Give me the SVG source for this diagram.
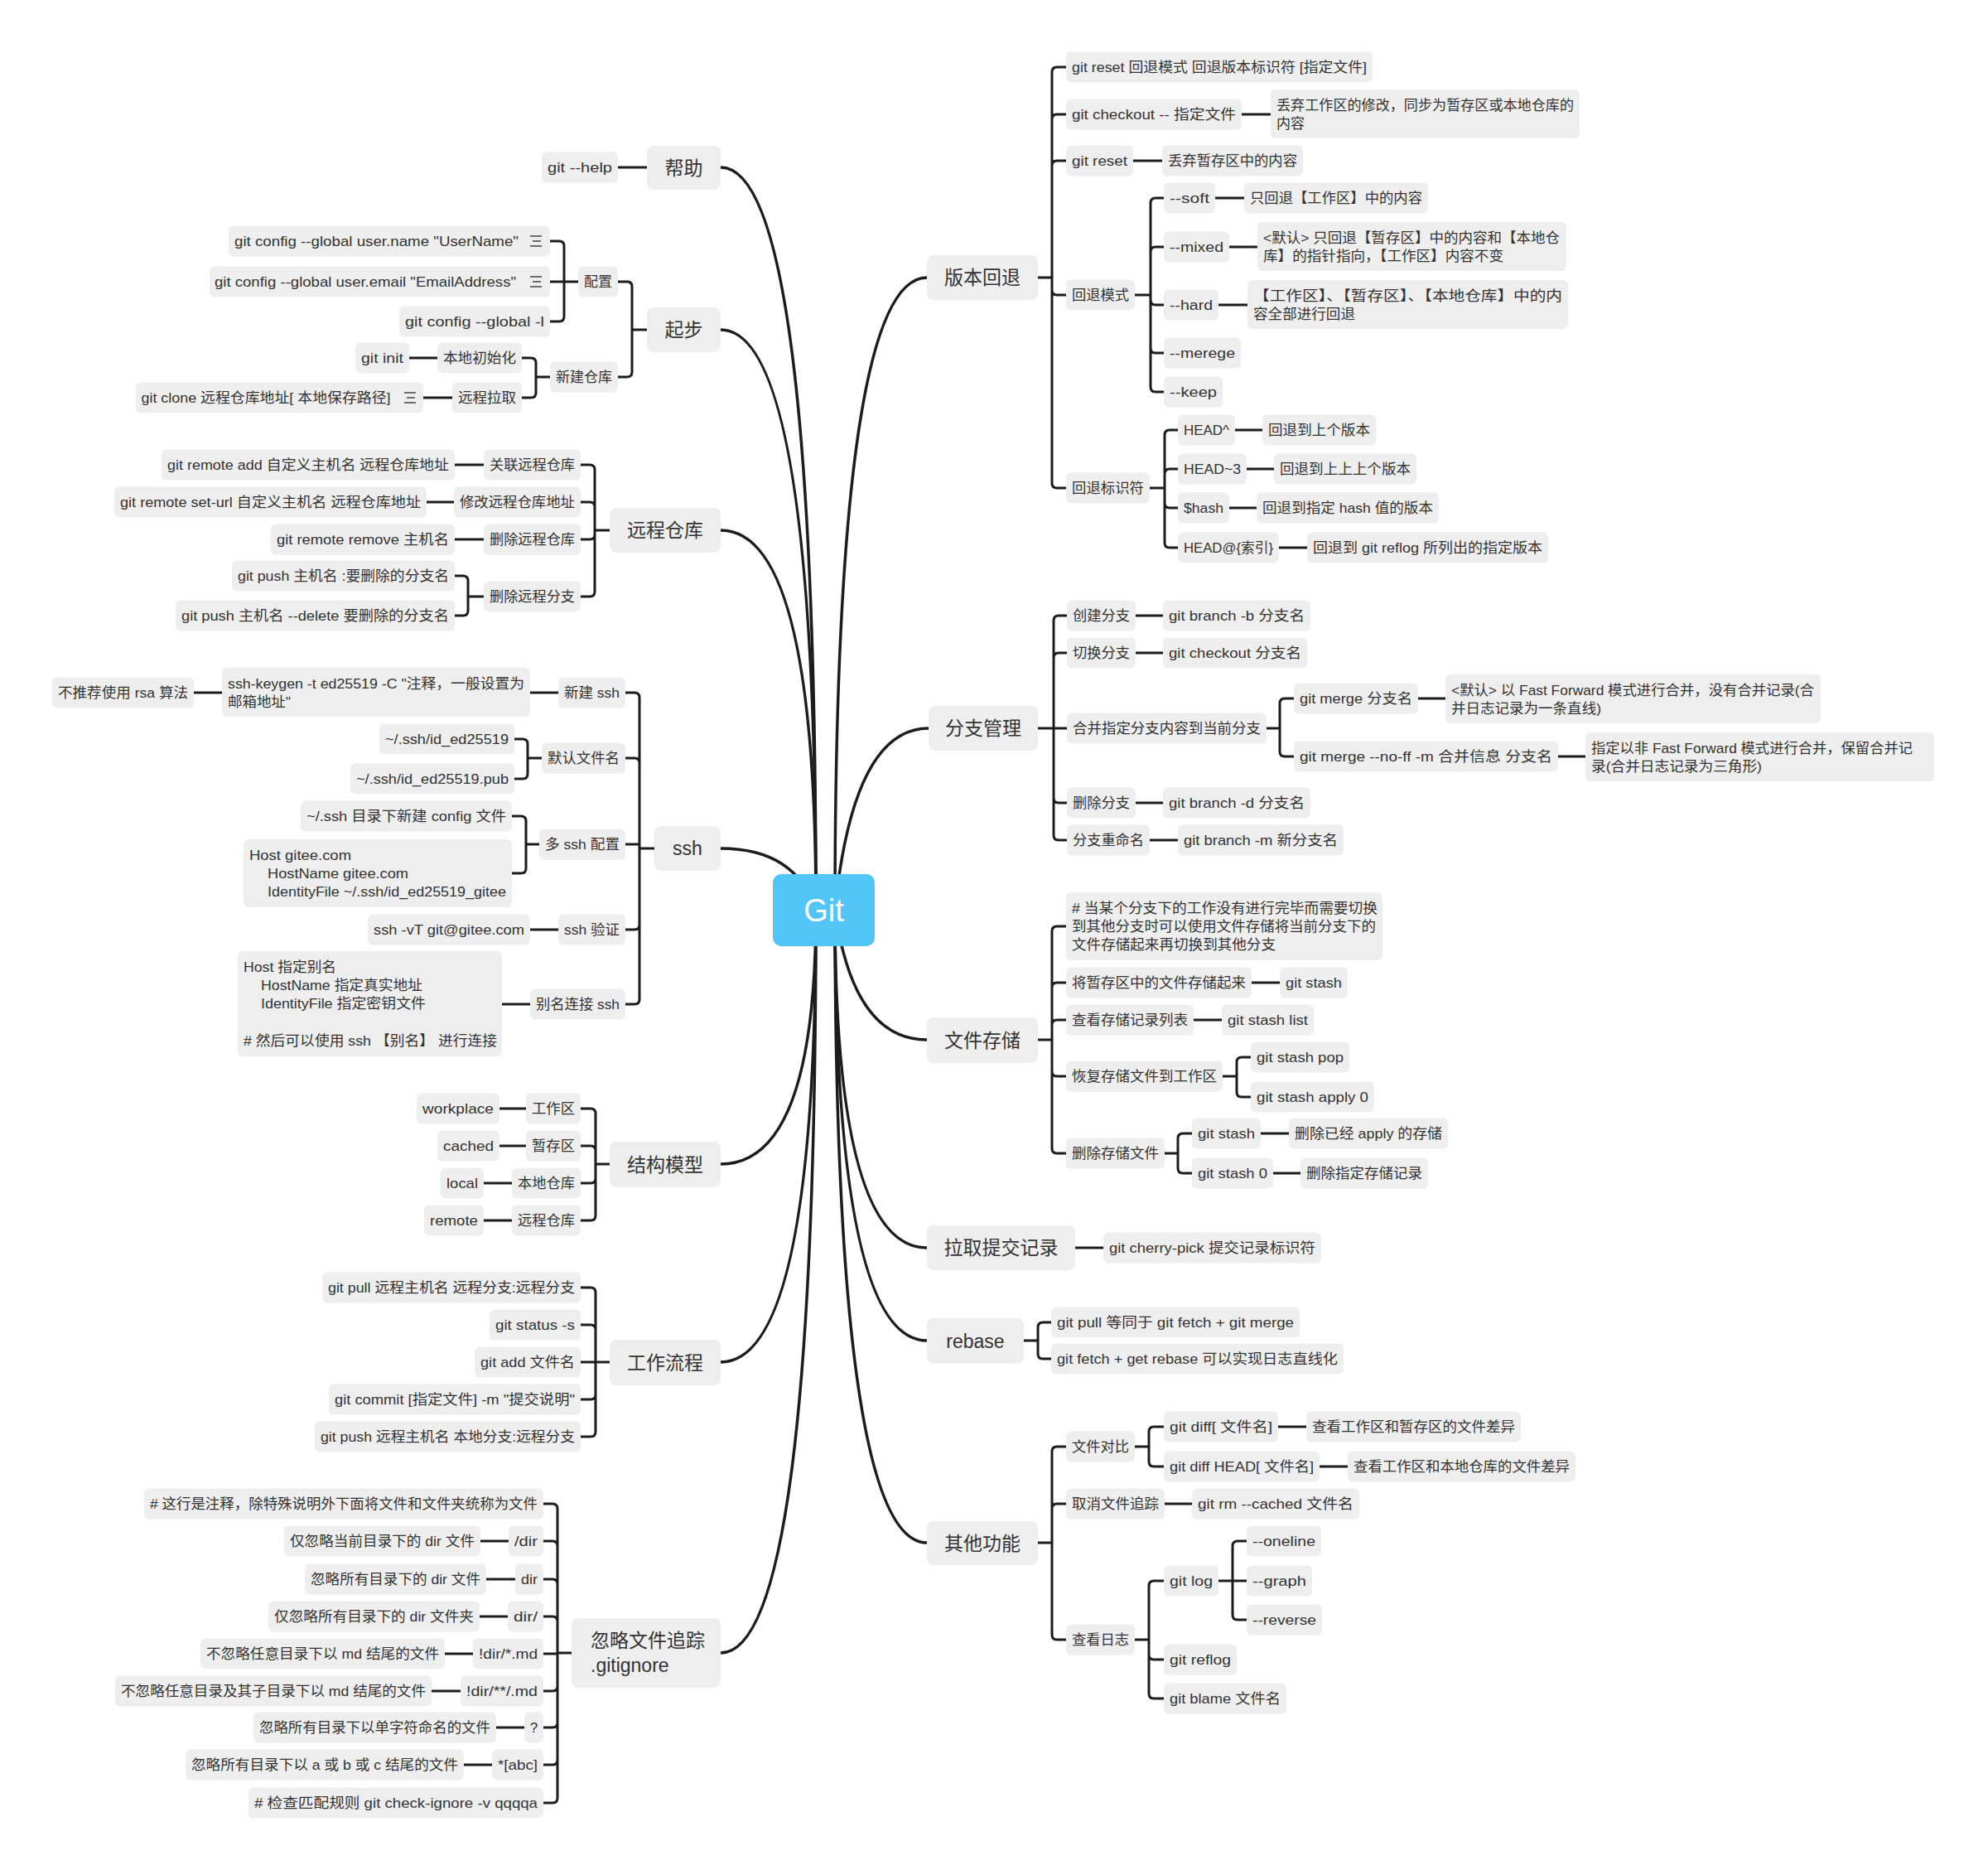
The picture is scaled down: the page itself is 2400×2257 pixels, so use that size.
<svg xmlns="http://www.w3.org/2000/svg" width="2400" height="2257" viewBox="0 0 2400 2257">
<style>
.lk path{fill:none;stroke:#1c1c1c;stroke-width:3;stroke-linecap:round;stroke-linejoin:round}
.lk path.mc{stroke-width:3.5}
.nd rect{fill:#EEEEEE;rx:6px;ry:6px}
.nd text{font-family:"Liberation Sans","Noto Sans CJK SC",sans-serif;font-size:17px;fill:#333;text-anchor:middle;dominant-baseline:central}
.mt rect{rx:8px;ry:8px}
.mt text{font-size:23px}
.ml text{text-anchor:start}
.ic{stroke:#444;stroke-width:1.6;fill:none}
#root rect{fill:#52C5F7}
#root text{font-family:"Liberation Sans",sans-serif;font-size:38px;fill:#fff;text-anchor:middle;dominant-baseline:central}
</style>
<rect width="2400" height="2257" fill="#fff"/>
<g class="lk" id="connectors">
<path class="mc" d="M985,1098 Q985,202 870,202"/>
<path class="mc" d="M985,1098 Q985,398 870,398"/>
<path class="mc" d="M985,1098 Q985,640 870,640"/>
<path class="mc" d="M985,1098 Q960,1024 870,1024"/>
<path class="mc" d="M985,1098 Q985,1405 870,1405"/>
<path class="mc" d="M985,1098 Q985,1644 870,1644"/>
<path class="mc" d="M985,1098 Q985,1995 870,1995"/>
<path class="mc" d="M1008,1098 Q1008,335 1119,335"/>
<path class="mc" d="M1008,1098 Q1030,879 1121,879"/>
<path class="mc" d="M1008,1098 Q1030,1255 1119,1255"/>
<path class="mc" d="M1008,1098 Q1008,1506 1119,1506"/>
<path class="mc" d="M1008,1098 Q1008,1618 1119,1618"/>
<path class="mc" d="M1008,1098 Q1008,1862 1119,1862"/>
<path d="M781,202 H746"/>
<path d="M781,398 H763 M763,398 V346 Q763,340 757,340 H746 M763,398 V449 Q763,455 757,455 H746"/>
<path d="M698,340 H681 M681,340 V297 Q681,291 675,291 H664 M681,340 H664 M681,340 V382 Q681,388 675,388 H664"/>
<path d="M664,455 H647 M647,455 V438 Q647,432 641,432 H630 M647,455 V474 Q647,480 641,480 H630"/>
<path d="M528,432 H494 M546,480 H511"/>
<path d="M736,640 H718 M718,640 V567 Q718,561 712,561 H701 M718,640 V612 Q718,606 712,606 H701 M718,640 V645 Q718,651 712,651 H701 M718,640 V714 Q718,720 712,720 H701"/>
<path d="M584,561 H549 M548,606 H515 M584,651 H549"/>
<path d="M584,720 H565 M565,720 V701 Q565,695 559,695 H549 M565,720 V737 Q565,743 559,743 H549"/>
<path d="M790,1024 H772 M772,1024 V842 Q772,836 766,836 H755 M772,1024 V921 Q772,915 766,915 H755 M772,1019 H755 M772,1024 V1116 Q772,1122 766,1122 H755 M772,1024 V1206 Q772,1212 766,1212 H755"/>
<path d="M674,836 H640 M268,836 H234"/>
<path d="M654,915 H637 M637,915 V898 Q637,892 631,892 H621 M637,915 V934 Q637,940 631,940 H621"/>
<path d="M651,1019 H635 M635,1019 V991 Q635,985 629,985 H618 M635,1019 V1048 Q635,1054 629,1054 H618"/>
<path d="M674,1122 H640 M640,1212 H606"/>
<path d="M736,1405 H719 M719,1405 V1344 Q719,1338 713,1338 H701 M719,1405 V1389 Q719,1383 713,1383 H701 M719,1405 V1422 Q719,1428 713,1428 H701 M719,1405 V1467 Q719,1473 713,1473 H701"/>
<path d="M635,1338 H603 M635,1383 H603 M618,1428 H584 M618,1473 H584"/>
<path d="M736,1644 H719 M719,1644 V1560 Q719,1554 713,1554 H701 M719,1644 V1605 Q719,1599 713,1599 H701 M719,1644 H701 M719,1644 V1683 Q719,1689 713,1689 H701 M719,1644 V1728 Q719,1734 713,1734 H701"/>
<path d="M690,1995 H673 M673,1995 V1821 Q673,1815 667,1815 H656 M673,1995 V1866 Q673,1860 667,1860 H656 M673,1995 V1912 Q673,1906 667,1906 H656 M673,1995 V1957 Q673,1951 667,1951 H656 M673,1996 H656 M673,1995 V2035 Q673,2041 667,2041 H656 M673,1995 V2079 Q673,2085 667,2085 H656 M673,1995 V2124 Q673,2130 667,2130 H656 M673,1995 V2170 Q673,2176 667,2176 H656"/>
<path d="M614,1860 H580 M622,1906 H587 M613,1951 H579 M571,1996 H537 M556,2041 H521 M633,2085 H599 M594,2130 H560"/>
<path d="M1253,335 H1270 M1270,335 V87 Q1270,81 1276,81 H1287 M1270,335 V144 Q1270,138 1276,138 H1287 M1270,335 V200 Q1270,194 1276,194 H1287 M1270,335 V350 Q1270,356 1276,356 H1287 M1270,335 V583 Q1270,589 1276,589 H1287"/>
<path d="M1499,138 H1534 M1368,194 H1403"/>
<path d="M1370,356 H1389 M1389,356 V245 Q1389,239 1395,239 H1405 M1389,356 V304 Q1389,298 1395,298 H1405 M1389,356 V362 Q1389,368 1395,368 H1405 M1389,356 V420 Q1389,426 1395,426 H1405 M1389,356 V467 Q1389,473 1395,473 H1405"/>
<path d="M1467,239 H1502 M1484,298 H1518 M1471,368 H1506"/>
<path d="M1388,589 H1406 M1406,589 V525 Q1406,519 1412,519 H1422 M1406,589 V572 Q1406,566 1412,566 H1422 M1406,589 V607 Q1406,613 1412,613 H1422 M1406,589 V655 Q1406,661 1412,661 H1422"/>
<path d="M1491,519 H1524 M1505,566 H1538 M1484,613 H1517 M1544,661 H1578"/>
<path d="M1253,879 H1272 M1272,879 V749 Q1272,743 1278,743 H1288 M1272,879 V794 Q1272,788 1278,788 H1288 M1272,879 H1288 M1272,879 V963 Q1272,969 1278,969 H1288 M1272,879 V1008 Q1272,1014 1278,1014 H1288"/>
<path d="M1371,743 H1404 M1371,788 H1404 M1371,969 H1404 M1388,1014 H1422"/>
<path d="M1529,879 H1545 M1545,879 V849 Q1545,843 1551,843 H1562 M1545,879 V907 Q1545,913 1551,913 H1562"/>
<path d="M1712,843 H1745 M1881,913 H1914"/>
<path d="M1253,1255 H1270 M1270,1255 V1124 Q1270,1118 1276,1118 H1287 M1270,1255 V1192 Q1270,1186 1276,1186 H1287 M1270,1255 V1237 Q1270,1231 1276,1231 H1287 M1270,1255 V1293 Q1270,1299 1276,1299 H1287 M1270,1255 V1386 Q1270,1392 1276,1392 H1287"/>
<path d="M1511,1186 H1545 M1441,1231 H1475"/>
<path d="M1476,1299 H1493 M1493,1299 V1282 Q1493,1276 1499,1276 H1510 M1493,1299 V1318 Q1493,1324 1499,1324 H1510"/>
<path d="M1406,1392 H1422 M1422,1392 V1374 Q1422,1368 1428,1368 H1439 M1422,1392 V1410 Q1422,1416 1428,1416 H1439"/>
<path d="M1522,1368 H1556 M1537,1416 H1570"/>
<path d="M1298,1506 H1332"/>
<path d="M1236,1618 H1253 M1253,1618 V1602 Q1253,1596 1259,1596 H1269 M1253,1618 V1634 Q1253,1640 1259,1640 H1269"/>
<path d="M1253,1862 H1270 M1270,1862 V1752 Q1270,1746 1276,1746 H1287 M1270,1862 V1821 Q1270,1815 1276,1815 H1287 M1270,1862 V1973 Q1270,1979 1276,1979 H1287"/>
<path d="M1370,1746 H1387 M1387,1746 V1728 Q1387,1722 1393,1722 H1405 M1387,1746 V1764 Q1387,1770 1393,1770 H1405"/>
<path d="M1543,1722 H1577 M1593,1770 H1627 M1406,1815 H1439"/>
<path d="M1370,1979 H1387 M1387,1979 V1914 Q1387,1908 1393,1908 H1405 M1387,1979 V1997 Q1387,2003 1393,2003 H1405 M1387,1979 V2044 Q1387,2050 1393,2050 H1405"/>
<path d="M1471,1908 H1488 M1488,1908 V1866 Q1488,1860 1494,1860 H1505 M1488,1908 H1505 M1488,1908 V1949 Q1488,1955 1494,1955 H1505"/>
</g>

<g id="root"><rect x="933" y="1055" width="123" height="87" rx="10"/><text x="994.5" y="1098.5">Git</text></g>

<g id="n-help" class="nd mt"><rect x="781" y="176" width="89" height="53"/><text x="825.5" y="202.5">帮助</text></g>
<g id="n-help-1" class="nd"><rect x="654" y="183.5" width="92" height="37"/><text x="700" y="202" textLength="78" lengthAdjust="spacingAndGlyphs">git --help</text></g>

<g id="n-start" class="nd mt"><rect x="781" y="371" width="89" height="54"/><text x="825.5" y="398">起步</text></g>
<g id="n-config" class="nd"><rect x="698" y="321.5" width="48" height="37"/><text x="722" y="340" textLength="34" lengthAdjust="spacingAndGlyphs">配置</text></g>
<g id="n-config-1" class="nd"><rect x="276" y="272.5" width="388" height="37"/><text x="454.5" y="291" textLength="343" lengthAdjust="spacingAndGlyphs">git config --global user.name "UserName"</text><path class="ic" d="M640,285 H654 M643,291 H653 M640,297 H654"/></g>
<g id="n-config-2" class="nd"><rect x="253" y="321.5" width="411" height="37"/><text x="441" y="340" textLength="364" lengthAdjust="spacingAndGlyphs">git config --global user.email "EmailAddress"</text><path class="ic" d="M640,334 H654 M643,340 H653 M640,346 H654"/></g>
<g id="n-config-3" class="nd"><rect x="482" y="369.5" width="182" height="37"/><text x="573" y="388" textLength="168" lengthAdjust="spacingAndGlyphs">git config --global -l</text></g>
<g id="n-newrepo" class="nd"><rect x="664" y="436.5" width="82" height="37"/><text x="705" y="455" textLength="68" lengthAdjust="spacingAndGlyphs">新建仓库</text></g>
<g id="n-localinit" class="nd"><rect x="528" y="413.5" width="102" height="37"/><text x="579" y="432" textLength="88" lengthAdjust="spacingAndGlyphs">本地初始化</text></g>
<g id="n-gitinit" class="nd"><rect x="429" y="413.5" width="65" height="37"/><text x="461.5" y="432" textLength="51" lengthAdjust="spacingAndGlyphs">git init</text></g>
<g id="n-remotepull" class="nd"><rect x="546" y="461.5" width="84" height="37"/><text x="588" y="480" textLength="70" lengthAdjust="spacingAndGlyphs">远程拉取</text></g>
<g id="n-gitclone" class="nd"><rect x="164" y="461.5" width="347" height="37"/><text x="321" y="480" textLength="301" lengthAdjust="spacingAndGlyphs">git clone 远程仓库地址[ 本地保存路径]</text><path class="ic" d="M488,474 H502 M491,480 H501 M488,486 H502"/></g>

<g id="n-remote" class="nd mt"><rect x="736" y="613" width="134" height="54"/><text x="803" y="640">远程仓库</text></g>
<g id="n-remote-add" class="nd"><rect x="584" y="542.5" width="117" height="37"/><text x="642.5" y="561" textLength="103" lengthAdjust="spacingAndGlyphs">关联远程仓库</text></g>
<g id="n-remote-add-1" class="nd"><rect x="195" y="542.5" width="354" height="37"/><text x="372" y="561" textLength="340" lengthAdjust="spacingAndGlyphs">git remote add 自定义主机名 远程仓库地址</text></g>
<g id="n-remote-set" class="nd"><rect x="548" y="587.5" width="153" height="37"/><text x="624.5" y="606" textLength="139" lengthAdjust="spacingAndGlyphs">修改远程仓库地址</text></g>
<g id="n-remote-set-1" class="nd"><rect x="138" y="587.5" width="377" height="37"/><text x="326.5" y="606" textLength="363" lengthAdjust="spacingAndGlyphs">git remote set-url 自定义主机名 远程仓库地址</text></g>
<g id="n-remote-rm" class="nd"><rect x="584" y="632.5" width="117" height="37"/><text x="642.5" y="651" textLength="103" lengthAdjust="spacingAndGlyphs">删除远程仓库</text></g>
<g id="n-remote-rm-1" class="nd"><rect x="327" y="632.5" width="222" height="37"/><text x="438" y="651" textLength="208" lengthAdjust="spacingAndGlyphs">git remote remove 主机名</text></g>
<g id="n-remote-delbr" class="nd"><rect x="584" y="701.5" width="117" height="37"/><text x="642.5" y="720" textLength="103" lengthAdjust="spacingAndGlyphs">删除远程分支</text></g>
<g id="n-remote-delbr-1" class="nd"><rect x="280" y="676.5" width="269" height="37"/><text x="414.5" y="695" textLength="255" lengthAdjust="spacingAndGlyphs">git push 主机名 :要删除的分支名</text></g>
<g id="n-remote-delbr-2" class="nd"><rect x="212" y="724.5" width="337" height="37"/><text x="380.5" y="743" textLength="323" lengthAdjust="spacingAndGlyphs">git push 主机名 --delete 要删除的分支名</text></g>

<g id="n-ssh" class="nd mt"><rect x="790" y="997" width="80" height="54"/><text x="830" y="1024">ssh</text></g>
<g id="n-ssh-new" class="nd"><rect x="674" y="817.5" width="81" height="37"/><text x="714.5" y="836" textLength="67" lengthAdjust="spacingAndGlyphs">新建 ssh</text></g>
<g id="n-ssh-keygen" class="nd ml"><rect x="268" y="806" width="372" height="59"/><text x="275" y="825" textLength="358" lengthAdjust="spacingAndGlyphs">ssh-keygen -t ed25519 -C "注释，一般设置为</text><text x="275" y="847" textLength="76" lengthAdjust="spacingAndGlyphs">邮箱地址"</text></g>
<g id="n-ssh-rsa" class="nd"><rect x="63" y="817.5" width="171" height="37"/><text x="148.5" y="836" textLength="157" lengthAdjust="spacingAndGlyphs">不推荐使用 rsa 算法</text></g>
<g id="n-ssh-default" class="nd"><rect x="654" y="896.5" width="101" height="37"/><text x="704.5" y="915" textLength="87" lengthAdjust="spacingAndGlyphs">默认文件名</text></g>
<g id="n-ssh-default-1" class="nd"><rect x="458" y="873.5" width="163" height="37"/><text x="539.5" y="892" textLength="149" lengthAdjust="spacingAndGlyphs">~/.ssh/id_ed25519</text></g>
<g id="n-ssh-default-2" class="nd"><rect x="423" y="921.5" width="198" height="37"/><text x="522" y="940" textLength="184" lengthAdjust="spacingAndGlyphs">~/.ssh/id_ed25519.pub</text></g>
<g id="n-ssh-multi" class="nd"><rect x="651" y="1000.5" width="104" height="37"/><text x="703" y="1019" textLength="90" lengthAdjust="spacingAndGlyphs">多 ssh 配置</text></g>
<g id="n-ssh-multi-1" class="nd"><rect x="363" y="966.5" width="255" height="37"/><text x="490.5" y="985" textLength="241" lengthAdjust="spacingAndGlyphs">~/.ssh 目录下新建 config 文件</text></g>
<g id="n-ssh-multi-2" class="nd ml"><rect x="294" y="1013" width="324" height="82"/><text x="301" y="1032" textLength="123" lengthAdjust="spacingAndGlyphs">Host gitee.com</text><text x="323" y="1054" textLength="170" lengthAdjust="spacingAndGlyphs">HostName gitee.com</text><text x="323" y="1076" textLength="288" lengthAdjust="spacingAndGlyphs">IdentityFile ~/.ssh/id_ed25519_gitee</text></g>
<g id="n-ssh-verify" class="nd"><rect x="674" y="1103.5" width="81" height="37"/><text x="714.5" y="1122" textLength="67" lengthAdjust="spacingAndGlyphs">ssh 验证</text></g>
<g id="n-ssh-verify-1" class="nd"><rect x="444" y="1103.5" width="196" height="37"/><text x="542" y="1122" textLength="182" lengthAdjust="spacingAndGlyphs">ssh -vT git@gitee.com</text></g>
<g id="n-ssh-alias" class="nd"><rect x="640" y="1193.5" width="115" height="37"/><text x="697.5" y="1212" textLength="101" lengthAdjust="spacingAndGlyphs">别名连接 ssh</text></g>
<g id="n-ssh-alias-1" class="nd ml"><rect x="287" y="1148" width="319" height="127"/><text x="294" y="1167" textLength="112" lengthAdjust="spacingAndGlyphs">Host 指定别名</text><text x="315" y="1189" textLength="195" lengthAdjust="spacingAndGlyphs">HostName 指定真实地址</text><text x="315" y="1211" textLength="199" lengthAdjust="spacingAndGlyphs">IdentityFile 指定密钥文件</text><text x="294" y="1256" textLength="306" lengthAdjust="spacingAndGlyphs"># 然后可以使用 ssh 【别名】 进行连接</text></g>

<g id="n-model" class="nd mt"><rect x="736" y="1378" width="134" height="55"/><text x="803" y="1405.5">结构模型</text></g>
<g id="n-model-1" class="nd"><rect x="635" y="1319.5" width="66" height="37"/><text x="668" y="1338" textLength="52" lengthAdjust="spacingAndGlyphs">工作区</text></g>
<g id="n-model-1a" class="nd"><rect x="503" y="1319.5" width="100" height="37"/><text x="553" y="1338" textLength="86" lengthAdjust="spacingAndGlyphs">workplace</text></g>
<g id="n-model-2" class="nd"><rect x="635" y="1364.5" width="66" height="37"/><text x="668" y="1383" textLength="52" lengthAdjust="spacingAndGlyphs">暂存区</text></g>
<g id="n-model-2a" class="nd"><rect x="528" y="1364.5" width="75" height="37"/><text x="565.5" y="1383" textLength="61" lengthAdjust="spacingAndGlyphs">cached</text></g>
<g id="n-model-3" class="nd"><rect x="618" y="1409.5" width="83" height="37"/><text x="659.5" y="1428" textLength="69" lengthAdjust="spacingAndGlyphs">本地仓库</text></g>
<g id="n-model-3a" class="nd"><rect x="532" y="1409.5" width="52" height="37"/><text x="558" y="1428" textLength="38" lengthAdjust="spacingAndGlyphs">local</text></g>
<g id="n-model-4" class="nd"><rect x="618" y="1454.5" width="83" height="37"/><text x="659.5" y="1473" textLength="69" lengthAdjust="spacingAndGlyphs">远程仓库</text></g>
<g id="n-model-4a" class="nd"><rect x="512" y="1454.5" width="72" height="37"/><text x="548" y="1473" textLength="58" lengthAdjust="spacingAndGlyphs">remote</text></g>

<g id="n-flow" class="nd mt"><rect x="736" y="1617" width="134" height="55"/><text x="803" y="1644.5">工作流程</text></g>
<g id="n-flow-1" class="nd"><rect x="389" y="1535.5" width="312" height="37"/><text x="545" y="1554" textLength="298" lengthAdjust="spacingAndGlyphs">git pull 远程主机名 远程分支:远程分支</text></g>
<g id="n-flow-2" class="nd"><rect x="591" y="1580.5" width="110" height="37"/><text x="646" y="1599" textLength="96" lengthAdjust="spacingAndGlyphs">git status -s</text></g>
<g id="n-flow-3" class="nd"><rect x="573" y="1625.5" width="128" height="37"/><text x="637" y="1644" textLength="114" lengthAdjust="spacingAndGlyphs">git add 文件名</text></g>
<g id="n-flow-4" class="nd"><rect x="397" y="1670.5" width="304" height="37"/><text x="549" y="1689" textLength="290" lengthAdjust="spacingAndGlyphs">git commit [指定文件] -m "提交说明"</text></g>
<g id="n-flow-5" class="nd"><rect x="380" y="1715.5" width="321" height="37"/><text x="540.5" y="1734" textLength="307" lengthAdjust="spacingAndGlyphs">git push 远程主机名 本地分支:远程分支</text></g>

<g id="n-ignore" class="nd mt ml"><rect x="690" y="1953" width="180" height="84"/><text x="713" y="1980">忽略文件追踪</text><text x="713" y="2010">.gitignore</text></g>
<g id="n-ignore-1" class="nd"><rect x="174" y="1796.5" width="482" height="37"/><text x="415" y="1815" textLength="468" lengthAdjust="spacingAndGlyphs"># 这行是注释，除特殊说明外下面将文件和文件夹统称为文件</text></g>
<g id="n-ignore-2" class="nd"><rect x="614" y="1841.5" width="42" height="37"/><text x="635" y="1860" textLength="28" lengthAdjust="spacingAndGlyphs">/dir</text></g>
<g id="n-ignore-2a" class="nd"><rect x="343" y="1841.5" width="237" height="37"/><text x="461.5" y="1860" textLength="223" lengthAdjust="spacingAndGlyphs">仅忽略当前目录下的 dir 文件</text></g>
<g id="n-ignore-3" class="nd"><rect x="622" y="1887.5" width="34" height="37"/><text x="639" y="1906" textLength="20" lengthAdjust="spacingAndGlyphs">dir</text></g>
<g id="n-ignore-3a" class="nd"><rect x="368" y="1887.5" width="219" height="37"/><text x="477.5" y="1906" textLength="205" lengthAdjust="spacingAndGlyphs">忽略所有目录下的 dir 文件</text></g>
<g id="n-ignore-4" class="nd"><rect x="613" y="1932.5" width="43" height="37"/><text x="634.5" y="1951" textLength="29" lengthAdjust="spacingAndGlyphs">dir/</text></g>
<g id="n-ignore-4a" class="nd"><rect x="324" y="1932.5" width="255" height="37"/><text x="451.5" y="1951" textLength="241" lengthAdjust="spacingAndGlyphs">仅忽略所有目录下的 dir 文件夹</text></g>
<g id="n-ignore-5" class="nd"><rect x="571" y="1977.5" width="85" height="37"/><text x="613.5" y="1996" textLength="71" lengthAdjust="spacingAndGlyphs">!dir/*.md</text></g>
<g id="n-ignore-5a" class="nd"><rect x="242" y="1977.5" width="295" height="37"/><text x="389.5" y="1996" textLength="281" lengthAdjust="spacingAndGlyphs">不忽略任意目录下以 md 结尾的文件</text></g>
<g id="n-ignore-6" class="nd"><rect x="556" y="2022.5" width="100" height="37"/><text x="606" y="2041" textLength="86" lengthAdjust="spacingAndGlyphs">!dir/**/.md</text></g>
<g id="n-ignore-6a" class="nd"><rect x="139" y="2022.5" width="382" height="37"/><text x="330" y="2041" textLength="368" lengthAdjust="spacingAndGlyphs">不忽略任意目录及其子目录下以 md 结尾的文件</text></g>
<g id="n-ignore-7" class="nd"><rect x="633" y="2066.5" width="23" height="37"/><text x="644.5" y="2085">?</text></g>
<g id="n-ignore-7a" class="nd"><rect x="306" y="2066.5" width="293" height="37"/><text x="452.5" y="2085" textLength="279" lengthAdjust="spacingAndGlyphs">忽略所有目录下以单字符命名的文件</text></g>
<g id="n-ignore-8" class="nd"><rect x="594" y="2111.5" width="62" height="37"/><text x="625" y="2130" textLength="48" lengthAdjust="spacingAndGlyphs">*[abc]</text></g>
<g id="n-ignore-8a" class="nd"><rect x="224" y="2111.5" width="336" height="37"/><text x="392" y="2130" textLength="322" lengthAdjust="spacingAndGlyphs">忽略所有目录下以 a 或 b 或 c 结尾的文件</text></g>
<g id="n-ignore-9" class="nd"><rect x="300" y="2157.5" width="356" height="37"/><text x="478" y="2176" textLength="342" lengthAdjust="spacingAndGlyphs"># 检查匹配规则 git check-ignore -v qqqqa</text></g>

<g id="n-reset" class="nd mt"><rect x="1119" y="308" width="134" height="54"/><text x="1186" y="335">版本回退</text></g>
<g id="n-reset-1" class="nd"><rect x="1287" y="62.5" width="370" height="37"/><text x="1472" y="81" textLength="356" lengthAdjust="spacingAndGlyphs">git reset 回退模式 回退版本标识符 [指定文件]</text></g>
<g id="n-reset-2" class="nd"><rect x="1287" y="119.5" width="212" height="37"/><text x="1393" y="138" textLength="198" lengthAdjust="spacingAndGlyphs">git checkout -- 指定文件</text></g>
<g id="n-reset-2a" class="nd ml"><rect x="1534" y="108" width="373" height="59"/><text x="1541" y="127" textLength="359" lengthAdjust="spacingAndGlyphs">丢弃工作区的修改，同步为暂存区或本地仓库的</text><text x="1541" y="149">内容</text></g>
<g id="n-reset-3" class="nd"><rect x="1287" y="175.5" width="81" height="37"/><text x="1327.5" y="194" textLength="67" lengthAdjust="spacingAndGlyphs">git reset</text></g>
<g id="n-reset-3a" class="nd"><rect x="1403" y="175.5" width="170" height="37"/><text x="1488" y="194" textLength="156" lengthAdjust="spacingAndGlyphs">丢弃暂存区中的内容</text></g>
<g id="n-mode" class="nd"><rect x="1287" y="337.5" width="83" height="37"/><text x="1328.5" y="356" textLength="69" lengthAdjust="spacingAndGlyphs">回退模式</text></g>
<g id="n-mode-soft" class="nd"><rect x="1405" y="220.5" width="62" height="37"/><text x="1436" y="239" textLength="48" lengthAdjust="spacingAndGlyphs">--soft</text></g>
<g id="n-mode-soft-1" class="nd"><rect x="1502" y="220.5" width="222" height="37"/><text x="1613" y="239" textLength="208" lengthAdjust="spacingAndGlyphs">只回退【工作区】中的内容</text></g>
<g id="n-mode-mixed" class="nd"><rect x="1405" y="279.5" width="79" height="37"/><text x="1444.5" y="298" textLength="65" lengthAdjust="spacingAndGlyphs">--mixed</text></g>
<g id="n-mode-mixed-1" class="nd ml"><rect x="1518" y="268" width="373" height="59"/><text x="1525" y="287" textLength="358" lengthAdjust="spacingAndGlyphs">&lt;默认&gt; 只回退【暂存区】中的内容和【本地仓</text><text x="1525" y="309" textLength="290" lengthAdjust="spacingAndGlyphs">库】的指针指向，【工作区】内容不变</text></g>
<g id="n-mode-hard" class="nd"><rect x="1405" y="349.5" width="66" height="37"/><text x="1438" y="368" textLength="52" lengthAdjust="spacingAndGlyphs">--hard</text></g>
<g id="n-mode-hard-1" class="nd ml"><rect x="1506" y="338" width="387" height="59"/><text x="1513" y="357" textLength="373" lengthAdjust="spacingAndGlyphs">【工作区】、【暂存区】、【本地仓库】中的内</text><text x="1513" y="379" textLength="123" lengthAdjust="spacingAndGlyphs">容全部进行回退</text></g>
<g id="n-mode-merege" class="nd"><rect x="1405" y="407.5" width="93" height="37"/><text x="1451.5" y="426" textLength="79" lengthAdjust="spacingAndGlyphs">--merege</text></g>
<g id="n-mode-keep" class="nd"><rect x="1405" y="454.5" width="71" height="37"/><text x="1440.5" y="473" textLength="57" lengthAdjust="spacingAndGlyphs">--keep</text></g>
<g id="n-ident" class="nd"><rect x="1287" y="570.5" width="101" height="37"/><text x="1337.5" y="589" textLength="87" lengthAdjust="spacingAndGlyphs">回退标识符</text></g>
<g id="n-ident-1" class="nd"><rect x="1422" y="500.5" width="69" height="37"/><text x="1456.5" y="519" textLength="55" lengthAdjust="spacingAndGlyphs">HEAD^</text></g>
<g id="n-ident-1a" class="nd"><rect x="1524" y="500.5" width="137" height="37"/><text x="1592.5" y="519" textLength="123" lengthAdjust="spacingAndGlyphs">回退到上个版本</text></g>
<g id="n-ident-2" class="nd"><rect x="1422" y="547.5" width="83" height="37"/><text x="1463.5" y="566" textLength="69" lengthAdjust="spacingAndGlyphs">HEAD~3</text></g>
<g id="n-ident-2a" class="nd"><rect x="1538" y="547.5" width="172" height="37"/><text x="1624" y="566" textLength="158" lengthAdjust="spacingAndGlyphs">回退到上上上个版本</text></g>
<g id="n-ident-3" class="nd"><rect x="1422" y="594.5" width="62" height="37"/><text x="1453" y="613" textLength="48" lengthAdjust="spacingAndGlyphs">$hash</text></g>
<g id="n-ident-3a" class="nd"><rect x="1517" y="594.5" width="220" height="37"/><text x="1627" y="613" textLength="206" lengthAdjust="spacingAndGlyphs">回退到指定 hash 值的版本</text></g>
<g id="n-ident-4" class="nd"><rect x="1422" y="642.5" width="122" height="37"/><text x="1483" y="661" textLength="108" lengthAdjust="spacingAndGlyphs">HEAD@{索引}</text></g>
<g id="n-ident-4a" class="nd"><rect x="1578" y="642.5" width="291" height="37"/><text x="1723.5" y="661" textLength="277" lengthAdjust="spacingAndGlyphs">回退到 git reflog 所列出的指定版本</text></g>

<g id="n-branch" class="nd mt"><rect x="1121" y="852" width="132" height="54"/><text x="1187" y="879">分支管理</text></g>
<g id="n-branch-1" class="nd"><rect x="1288" y="724.5" width="83" height="37"/><text x="1329.5" y="743" textLength="69" lengthAdjust="spacingAndGlyphs">创建分支</text></g>
<g id="n-branch-1a" class="nd"><rect x="1404" y="724.5" width="178" height="37"/><text x="1493" y="743" textLength="164" lengthAdjust="spacingAndGlyphs">git branch -b 分支名</text></g>
<g id="n-branch-2" class="nd"><rect x="1288" y="769.5" width="83" height="37"/><text x="1329.5" y="788" textLength="69" lengthAdjust="spacingAndGlyphs">切换分支</text></g>
<g id="n-branch-2a" class="nd"><rect x="1404" y="769.5" width="174" height="37"/><text x="1491" y="788" textLength="160" lengthAdjust="spacingAndGlyphs">git checkout 分支名</text></g>
<g id="n-branch-3" class="nd"><rect x="1288" y="860.5" width="241" height="37"/><text x="1408.5" y="879" textLength="227" lengthAdjust="spacingAndGlyphs">合并指定分支内容到当前分支</text></g>
<g id="n-branch-3a" class="nd"><rect x="1562" y="824.5" width="150" height="37"/><text x="1637" y="843" textLength="136" lengthAdjust="spacingAndGlyphs">git merge 分支名</text></g>
<g id="n-branch-3a1" class="nd ml"><rect x="1745" y="814" width="453" height="59"/><text x="1752" y="833" textLength="438" lengthAdjust="spacingAndGlyphs">&lt;默认&gt; 以 Fast Forward 模式进行合并，没有合并记录(合</text><text x="1752" y="855" textLength="181" lengthAdjust="spacingAndGlyphs">并日志记录为一条直线)</text></g>
<g id="n-branch-3b" class="nd"><rect x="1562" y="894.5" width="319" height="37"/><text x="1721.5" y="913" textLength="305" lengthAdjust="spacingAndGlyphs">git merge --no-ff -m 合并信息 分支名</text></g>
<g id="n-branch-3b1" class="nd ml"><rect x="1914" y="884" width="421" height="59"/><text x="1921" y="903" textLength="388" lengthAdjust="spacingAndGlyphs">指定以非 Fast Forward 模式进行合并，保留合并记</text><text x="1921" y="925" textLength="206" lengthAdjust="spacingAndGlyphs">录(合并日志记录为三角形)</text></g>
<g id="n-branch-4" class="nd"><rect x="1288" y="950.5" width="83" height="37"/><text x="1329.5" y="969" textLength="69" lengthAdjust="spacingAndGlyphs">删除分支</text></g>
<g id="n-branch-4a" class="nd"><rect x="1404" y="950.5" width="178" height="37"/><text x="1493" y="969" textLength="164" lengthAdjust="spacingAndGlyphs">git branch -d 分支名</text></g>
<g id="n-branch-5" class="nd"><rect x="1288" y="995.5" width="100" height="37"/><text x="1338" y="1014" textLength="86" lengthAdjust="spacingAndGlyphs">分支重命名</text></g>
<g id="n-branch-5a" class="nd"><rect x="1422" y="995.5" width="200" height="37"/><text x="1522" y="1014" textLength="186" lengthAdjust="spacingAndGlyphs">git branch -m 新分支名</text></g>

<g id="n-stash" class="nd mt"><rect x="1119" y="1228" width="134" height="55"/><text x="1186" y="1255.5">文件存储</text></g>
<g id="n-stash-0" class="nd ml"><rect x="1287" y="1077" width="382" height="82"/><text x="1294" y="1096" textLength="369" lengthAdjust="spacingAndGlyphs"># 当某个分支下的工作没有进行完毕而需要切换</text><text x="1294" y="1118" textLength="367" lengthAdjust="spacingAndGlyphs">到其他分支时可以使用文件存储将当前分支下的</text><text x="1294" y="1140" textLength="246" lengthAdjust="spacingAndGlyphs">文件存储起来再切换到其他分支</text></g>
<g id="n-stash-1" class="nd"><rect x="1287" y="1167.5" width="224" height="37"/><text x="1399" y="1186" textLength="210" lengthAdjust="spacingAndGlyphs">将暂存区中的文件存储起来</text></g>
<g id="n-stash-1a" class="nd"><rect x="1545" y="1167.5" width="82" height="37"/><text x="1586" y="1186" textLength="68" lengthAdjust="spacingAndGlyphs">git stash</text></g>
<g id="n-stash-2" class="nd"><rect x="1287" y="1212.5" width="154" height="37"/><text x="1364" y="1231" textLength="140" lengthAdjust="spacingAndGlyphs">查看存储记录列表</text></g>
<g id="n-stash-2a" class="nd"><rect x="1475" y="1212.5" width="111" height="37"/><text x="1530.5" y="1231" textLength="97" lengthAdjust="spacingAndGlyphs">git stash list</text></g>
<g id="n-stash-3" class="nd"><rect x="1287" y="1280.5" width="189" height="37"/><text x="1381.5" y="1299" textLength="175" lengthAdjust="spacingAndGlyphs">恢复存储文件到工作区</text></g>
<g id="n-stash-3a" class="nd"><rect x="1510" y="1257.5" width="119" height="37"/><text x="1569.5" y="1276" textLength="105" lengthAdjust="spacingAndGlyphs">git stash pop</text></g>
<g id="n-stash-3b" class="nd"><rect x="1510" y="1305.5" width="149" height="37"/><text x="1584.5" y="1324" textLength="135" lengthAdjust="spacingAndGlyphs">git stash apply 0</text></g>
<g id="n-stash-4" class="nd"><rect x="1287" y="1373.5" width="119" height="37"/><text x="1346.5" y="1392" textLength="105" lengthAdjust="spacingAndGlyphs">删除存储文件</text></g>
<g id="n-stash-4a" class="nd"><rect x="1439" y="1349.5" width="83" height="37"/><text x="1480.5" y="1368" textLength="69" lengthAdjust="spacingAndGlyphs">git stash</text></g>
<g id="n-stash-4a1" class="nd"><rect x="1556" y="1349.5" width="192" height="37"/><text x="1652" y="1368" textLength="178" lengthAdjust="spacingAndGlyphs">删除已经 apply 的存储</text></g>
<g id="n-stash-4b" class="nd"><rect x="1439" y="1397.5" width="98" height="37"/><text x="1488" y="1416" textLength="84" lengthAdjust="spacingAndGlyphs">git stash 0</text></g>
<g id="n-stash-4b1" class="nd"><rect x="1570" y="1397.5" width="154" height="37"/><text x="1647" y="1416" textLength="140" lengthAdjust="spacingAndGlyphs">删除指定存储记录</text></g>

<g id="n-pick" class="nd mt"><rect x="1119" y="1479" width="179" height="54"/><text x="1208.5" y="1506">拉取提交记录</text></g>
<g id="n-pick-1" class="nd"><rect x="1332" y="1487.5" width="263" height="37"/><text x="1463.5" y="1506" textLength="249" lengthAdjust="spacingAndGlyphs">git cherry-pick 提交记录标识符</text></g>

<g id="n-rebase" class="nd mt"><rect x="1119" y="1591" width="117" height="55"/><text x="1177.5" y="1618.5">rebase</text></g>
<g id="n-rebase-1" class="nd"><rect x="1269" y="1577.5" width="300" height="37"/><text x="1419" y="1596" textLength="286" lengthAdjust="spacingAndGlyphs">git pull 等同于 git fetch + git merge</text></g>
<g id="n-rebase-2" class="nd"><rect x="1269" y="1621.5" width="353" height="37"/><text x="1445.5" y="1640" textLength="339" lengthAdjust="spacingAndGlyphs">git fetch + get rebase 可以实现日志直线化</text></g>

<g id="n-other" class="nd mt"><rect x="1119" y="1836" width="134" height="53"/><text x="1186" y="1862.5">其他功能</text></g>
<g id="n-diff" class="nd"><rect x="1287" y="1727.5" width="83" height="37"/><text x="1328.5" y="1746" textLength="69" lengthAdjust="spacingAndGlyphs">文件对比</text></g>
<g id="n-diff-1" class="nd"><rect x="1405" y="1703.5" width="138" height="37"/><text x="1474" y="1722" textLength="124" lengthAdjust="spacingAndGlyphs">git diff[ 文件名]</text></g>
<g id="n-diff-1a" class="nd"><rect x="1577" y="1703.5" width="259" height="37"/><text x="1706.5" y="1722" textLength="245" lengthAdjust="spacingAndGlyphs">查看工作区和暂存区的文件差异</text></g>
<g id="n-diff-2" class="nd"><rect x="1405" y="1751.5" width="188" height="37"/><text x="1499" y="1770" textLength="174" lengthAdjust="spacingAndGlyphs">git diff HEAD[ 文件名]</text></g>
<g id="n-diff-2a" class="nd"><rect x="1627" y="1751.5" width="275" height="37"/><text x="1764.5" y="1770" textLength="261" lengthAdjust="spacingAndGlyphs">查看工作区和本地仓库的文件差异</text></g>
<g id="n-untrack" class="nd"><rect x="1287" y="1796.5" width="119" height="37"/><text x="1346.5" y="1815" textLength="105" lengthAdjust="spacingAndGlyphs">取消文件追踪</text></g>
<g id="n-untrack-1" class="nd"><rect x="1439" y="1796.5" width="202" height="37"/><text x="1540" y="1815" textLength="188" lengthAdjust="spacingAndGlyphs">git rm --cached 文件名</text></g>
<g id="n-log" class="nd"><rect x="1287" y="1960.5" width="83" height="37"/><text x="1328.5" y="1979" textLength="69" lengthAdjust="spacingAndGlyphs">查看日志</text></g>
<g id="n-log-1" class="nd"><rect x="1405" y="1889.5" width="66" height="37"/><text x="1438" y="1908" textLength="52" lengthAdjust="spacingAndGlyphs">git log</text></g>
<g id="n-log-1a" class="nd"><rect x="1505" y="1841.5" width="90" height="37"/><text x="1550" y="1860" textLength="76" lengthAdjust="spacingAndGlyphs">--oneline</text></g>
<g id="n-log-1b" class="nd"><rect x="1505" y="1889.5" width="79" height="37"/><text x="1544.5" y="1908" textLength="65" lengthAdjust="spacingAndGlyphs">--graph</text></g>
<g id="n-log-1c" class="nd"><rect x="1505" y="1936.5" width="91" height="37"/><text x="1550.5" y="1955" textLength="77" lengthAdjust="spacingAndGlyphs">--reverse</text></g>
<g id="n-log-2" class="nd"><rect x="1405" y="1984.5" width="88" height="37"/><text x="1449" y="2003" textLength="74" lengthAdjust="spacingAndGlyphs">git reflog</text></g>
<g id="n-log-3" class="nd"><rect x="1405" y="2031.5" width="148" height="37"/><text x="1479" y="2050" textLength="134" lengthAdjust="spacingAndGlyphs">git blame 文件名</text></g>
</svg>
